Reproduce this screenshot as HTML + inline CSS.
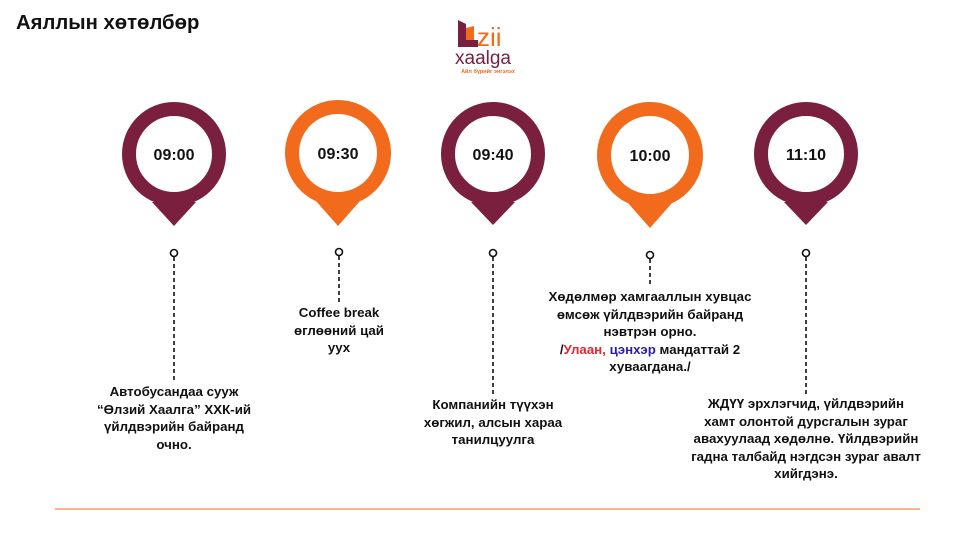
<!DOCTYPE html>
<html><head><meta charset="utf-8"><style>
body{margin:0;width:975px;height:548px;background:#fff;position:relative;overflow:hidden;font-family:"Liberation Sans","DejaVu Sans",sans-serif}
.t{position:absolute;font-weight:bold;font-size:13.3px;line-height:17.5px;text-align:center;color:#111;width:260px;white-space:nowrap}
</style></head><body>
<div style="position:absolute;left:16px;top:12px;font-size:20.3px;font-weight:bold;color:#111">Аяллын хөтөлбөр</div>
<svg width="975" height="548" style="position:absolute;left:0;top:0">
<path d="M458 20 L466 24 L466 40 L478 40 L478 47 L458 47 Z" fill="#7a1f3d"/>
<path d="M466 28 L474 26 L474 40 L466 40 Z" fill="#f26a1b"/>
<text x="477" y="46" font-family="Liberation Sans" font-size="26" fill="#f26a1b">zii</text>
<text x="455" y="64" font-family="Liberation Sans" font-size="19" fill="#7a1f3d">xaalga</text>
<text x="488" y="73" font-family="Liberation Sans" font-size="5.5" fill="#f26a1b" text-anchor="middle" font-weight="bold">Айл бүрийг энгэлэх</text>
<g font-family="Liberation Sans" font-weight="bold" font-size="16" text-anchor="middle" fill="#111">
<g transform="translate(174,154)"><path d="M-22 48 L0 72 L22 48 Z" fill="#7a1f3d"/><circle r="45" fill="none" stroke="#7a1f3d" stroke-width="14"/><text y="6">09:00</text></g>
<g transform="translate(338,153)"><path d="M-22 48 L0 73 L22 48 Z" fill="#f26a1b"/><circle r="46" fill="none" stroke="#f26a1b" stroke-width="14"/><text y="6">09:30</text></g>
<g transform="translate(493,154)"><path d="M-22 48 L0 71 L22 48 Z" fill="#7a1f3d"/><circle r="45" fill="none" stroke="#7a1f3d" stroke-width="14"/><text y="6">09:40</text></g>
<g transform="translate(650,155)"><path d="M-22 48 L0 73 L22 48 Z" fill="#f26a1b"/><circle r="46" fill="none" stroke="#f26a1b" stroke-width="14"/><text y="6">10:00</text></g>
<g transform="translate(806,154)"><path d="M-22 48 L0 71 L22 48 Z" fill="#7a1f3d"/><circle r="45" fill="none" stroke="#7a1f3d" stroke-width="14"/><text y="6">11:10</text></g>
</g>
<g fill="none" stroke="#111" stroke-width="1.6">
<circle cx="174" cy="253" r="3.5"/><line x1="174" y1="257" x2="174" y2="381" stroke-dasharray="4 3"/>
<circle cx="339" cy="252" r="3.5"/><line x1="339" y1="256" x2="339" y2="304" stroke-dasharray="4 3"/>
<circle cx="493" cy="253" r="3.5"/><line x1="493" y1="257" x2="493" y2="396" stroke-dasharray="4 3"/>
<circle cx="650" cy="255" r="3.5"/><line x1="650" y1="259" x2="650" y2="287" stroke-dasharray="4 3"/>
<circle cx="806" cy="253" r="3.5"/><line x1="806" y1="257" x2="806" y2="396" stroke-dasharray="4 3"/>
</g>
<line x1="55" y1="509" x2="920" y2="509" stroke="#f26a1b" stroke-width="1"/>
</svg>
<div class="t" style="left:44px;top:383px">Автобусандаа сууж<br>“Өлзий Хаалга” ХХК-ий<br>үйлдвэрийн байранд<br>очно.</div>
<div class="t" style="left:209px;top:304px">Coffee break<br>өглөөний цай<br>уух</div>
<div class="t" style="left:363px;top:396px">Компанийн түүхэн<br>хөгжил, алсын хараа<br>танилцуулга</div>
<div class="t" style="left:520px;top:288px">Хөдөлмөр хамгааллын хувцас<br>өмсөж үйлдвэрийн байранд<br>нэвтрэн орно.<br>/<span style="color:#e8262b">Улаан,</span> <span style="color:#2a1fa8">цэнхэр</span> мандаттай 2<br>хуваагдана./</div>
<div class="t" style="left:676px;top:395px">ЖДҮҮ эрхлэгчид, үйлдвэрийн<br>хамт олонтой дурсгалын зураг<br>авахуулаад хөдөлнө. Үйлдвэрийн<br>гадна талбайд нэгдсэн зураг авалт<br>хийгдэнэ.</div>
</body></html>
